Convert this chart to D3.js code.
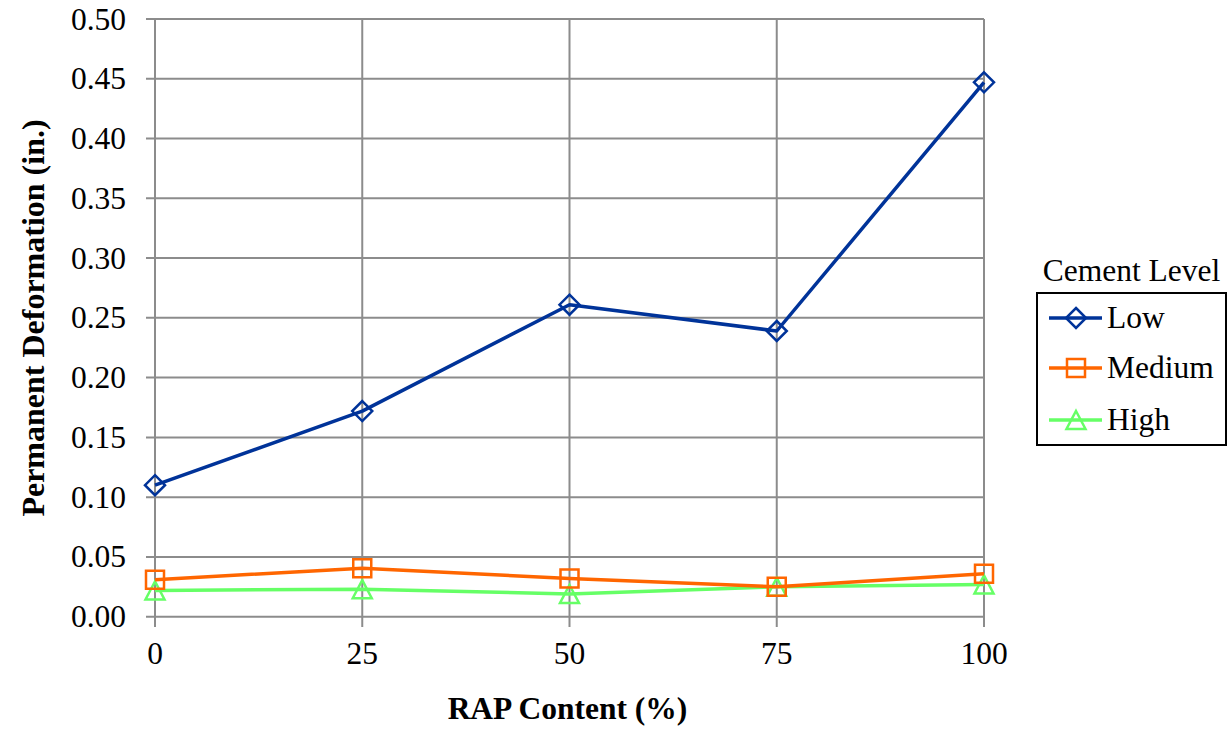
<!DOCTYPE html>
<html><head><meta charset="utf-8">
<script src="https://cdn.jsdelivr.net/npm/d3@7"></script>
<style>body{margin:0;background:#fff}</style>
</head><body>
<svg id="c" width="1231" height="736"></svg>
<script>
const categories = [0, 25, 50, 75, 100];
const lowValues = [0.110, 0.172, 0.261, 0.239, 0.447];
const mediumValues = [0.031, 0.0405, 0.032, 0.025, 0.036];
const highValues = [0.022, 0.023, 0.019, 0.025, 0.027];
const yTicks = [0, 0.05, 0.10, 0.15, 0.20, 0.25, 0.30, 0.35, 0.40, 0.45, 0.50];
const seriesNames = ["Low", "Medium", "High"];
const legendTitle = "Cement Level";
const xTitle = "RAP Content (%)";
const yTitle = "Permanent Deformation (in.)";

const series = [
  {name: seriesNames[0], values: lowValues, color: "#003399", marker: "diamond"},
  {name: seriesNames[1], values: mediumValues, color: "#FF6600", marker: "square"},
  {name: seriesNames[2], values: highValues, color: "#66FF66", marker: "triangle"}
];

const FONT = "'Times New Roman', 'Liberation Serif', Tinos, 'DejaVu Serif', serif";
const FS = 31.5;
const svg = d3.select("#c").attr("font-family", FONT);
const x = d3.scaleLinear().domain([0, 100]).range([155, 984]);
const y = d3.scaleLinear().domain([0, 0.5]).range([616.7, 19]);
const grid = "#8c8c8c";

svg.append("g").selectAll("line").data(yTicks).join("line")
  .attr("x1", 146).attr("x2", x(100))
  .attr("y1", d => y(d)).attr("y2", d => y(d))
  .attr("stroke", grid).attr("stroke-width", 2);
svg.append("g").selectAll("line").data(categories).join("line")
  .attr("x1", d => x(d)).attr("x2", d => x(d))
  .attr("y1", y(0.5)).attr("y2", 627)
  .attr("stroke", grid).attr("stroke-width", 2);

svg.append("g").selectAll("text").data(yTicks).join("text")
  .attr("x", 126).attr("y", d => y(d) + 10.5)
  .attr("text-anchor", "end").attr("font-size", FS).attr("font-family", FONT)
  .text(d => d3.format(".2f")(d));
svg.append("g").selectAll("text").data(categories).join("text")
  .attr("x", d => x(d)).attr("y", 664)
  .attr("text-anchor", "middle").attr("font-size", FS).attr("font-family", FONT)
  .text(d => d);

svg.append("text").attr("x", 567.5).attr("y", 719).attr("text-anchor", "middle").attr("font-family", FONT)
  .attr("font-size", FS).attr("font-weight", "bold").text(xTitle);
svg.append("text").attr("transform", "translate(44,318) rotate(-90)").attr("font-family", FONT)
  .attr("text-anchor", "middle").attr("font-size", 32).attr("font-weight", "bold").text(yTitle);

function markerPath(type) {
  if (type === "diamond") return "M0,-10L10,0L0,10L-10,0Z";
  if (type === "square") return "M-9,-9H9V9H-9Z";
  return "M0,-11L9.5,7L-9.5,7Z";
}

const line = d3.line().x((d, i) => x(categories[i])).y(d => y(d));
series.slice().reverse().forEach(s => {
  const g = svg.append("g");
  g.append("path").attr("d", line(s.values)).attr("fill", "none")
    .attr("stroke", s.color).attr("stroke-width", 3.5).attr("stroke-linejoin", "round");
  g.selectAll("path.m").data(s.values).join("path").attr("class", "m")
    .attr("d", markerPath(s.marker))
    .attr("transform", (d, i) => `translate(${x(categories[i])},${y(d) + (s.marker === "triangle" ? 2 : 0)})`)
    .attr("fill", "none").attr("stroke", s.color).attr("stroke-width", 2.5);
});

svg.append("text").attr("x", 1131.5).attr("y", 281).attr("text-anchor", "middle").attr("font-family", FONT)
  .attr("font-size", FS).text(legendTitle);
svg.append("rect").attr("x", 1037).attr("y", 293).attr("width", 189).attr("height", 152)
  .attr("fill", "#fff").attr("stroke", "#000").attr("stroke-width", 2);
const ly = [318, 368, 420];
series.forEach((s, i) => {
  const g = svg.append("g");
  g.append("line").attr("x1", 1049).attr("x2", 1102).attr("y1", ly[i]).attr("y2", ly[i])
    .attr("stroke", s.color).attr("stroke-width", 3.5);
  g.append("path").attr("d", markerPath(s.marker))
    .attr("transform", `translate(1076,${ly[i] + (s.marker === "triangle" ? 2 : 0)})`)
    .attr("fill", "none").attr("stroke", s.color).attr("stroke-width", 2.5);
  g.append("text").attr("x", 1107).attr("y", ly[i] + 10).attr("font-size", FS).attr("font-family", FONT).text(s.name);
});
</script>
</body></html>
